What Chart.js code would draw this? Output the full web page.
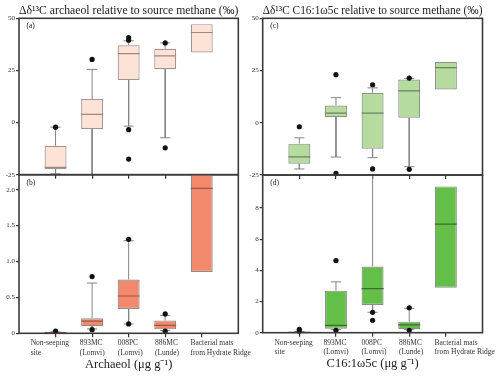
<!DOCTYPE html>
<html><head><meta charset="utf-8">
<script src="https://cdn.jsdelivr.net/npm/chart.js@4.4.1/dist/chart.umd.min.js"></script>
<style>
html,body{margin:0;padding:0;background:#fff;}
#wrap{position:relative;width:500px;height:377px;overflow:hidden;background:#fff;}
canvas{position:absolute;left:0;top:0;}
</style></head><body>
<div id="wrap">
<canvas id="pa" width="500" height="377"></canvas>
<canvas id="pb" width="500" height="377"></canvas>
<canvas id="pc" width="500" height="377"></canvas>
<canvas id="pd" width="500" height="377"></canvas>
</div>
<script>
// ---------- categories & tick labels ----------
const categories = [['Non-seeping','site'],['893MC','(Lomvi)'],['008PC','(Lomvi)'],['886MC','(Lunde)'],['Bacterial mats','from Hydrate Ridge']];
const catIndex = [0,1,2,3,4];
const deltaTicks = [-25,0,25,50];
const deltaTickLabels = ['-25','0','25','50'];
const archConcTicks = [0,0.5,1,1.5,2];
const archConcTickLabels = ['0','0.5','1.0','1.5','2.0'];
const c16ConcTicks = [0,2,4,6,8];
const c16ConcTickLabels = ['0','2','4','6','8'];

// ---------- (a) Δδ13C archaeol ----------
const archD_q1  = [-22.4, -3.1, 20.4, 25.6, 33.6];
const archD_q3  = [-11.1, 11.3, 37.1, 35.4, 47.2];
const archD_med = [-21.5, 3.9, 33.1, 32.0, 43.2];
const archD_lo  = [-24.6, -30, -1.7, -7.3, null];
const archD_hi  = [-2.2, 25.5, 39.2, 38.2, null];
const archD_out = [[-2.2],[30.3],[40.8,39.5,-3.4,-17.5],[38.2,-12.1],[]];

// ---------- (b) archaeol concentration ----------
const archC_q1  = [0.0, 0.10, 0.34, 0.055, 0.855];
const archC_q3  = [0.02, 0.21, 0.75, 0.18, 2.6];
const archC_med = [0.01, 0.17, 0.52, 0.11, 2.02];
const archC_lo  = [0.0, 0.06, 0.13, 0.04, null];
const archC_hi  = [0.02, 0.70, 1.29, 0.25, null];
const archC_out = [[0.03],[0.79,0.05],[1.31,0.13],[0.27,0.03],[]];

// ---------- (c) Δδ13C C16:1ω5c ----------
const c16D_q1  = [-19.6, 2.7, -12.4, 2.4, 15.9];
const c16D_q3  = [-10.0, 8.3, 14.2, 20.7, 29.2];
const c16D_med = [-16.3, 4.6, 4.6, 15.3, 26.4];
const c16D_lo  = [-22.1, -16.4, -16.7, -21.0, null];
const c16D_hi  = [-7.2, 12.0, 16.7, 21.2, null];
const c16D_out = [[-1.9],[23.0,-24.2],[18.2,-22.1],[21.4,-22.3],[]];

// ---------- (d) C16:1ω5c concentration ----------
const c16C_q1  = [0.0, 0.25, 1.78, 0.22, 2.89];
const c16C_q3  = [0.05, 2.70, 4.25, 0.71, 9.39];
const c16C_med = [0.02, 0.47, 2.83, 0.50, 6.97];
const c16C_lo  = [0.0, 0.2, 1.31, 0.2, null];
const c16C_hi  = [0.08, 3.26, 11, 1.57, null];
const c16C_out = [[0.22,0.1],[4.63,0.15],[1.31,0.80],[1.60,0.15],[]];

// ---------- style constants ----------
const SERIF = "'Liberation Serif','Times New Roman',serif";
const BOX_FRAC = 0.6;          // bar width as fraction of category spacing
const HALF = BOX_FRAC/2;
const CAP = 0.14;
const LABEL_OFFSETS = [-0.68,-0.34,-0.3,-0.28,-0.31]; // left-aligned label start, in category units

function whiskerPts(q1,q3,lo,hi){
  const p=[];
  q1.forEach((_,i)=>{
    if(hi[i]!=null){ p.push({x:i,y:q3[i]},{x:i,y:hi[i]},{x:i,y:null},{x:i-CAP,y:hi[i]},{x:i+CAP,y:hi[i]},{x:i,y:null}); }
    if(lo[i]!=null){ p.push({x:i,y:q1[i]},{x:i,y:lo[i]},{x:i,y:null},{x:i-CAP,y:lo[i]},{x:i+CAP,y:lo[i]},{x:i,y:null}); }
  });
  return p;
}
function medianPts(med){ const p=[]; med.forEach((m,i)=>p.push({x:i-HALF,y:m},{x:i+HALF,y:m},{x:i,y:null})); return p; }
function boxPts(q1,q3){ return q1.map((v,i)=>({x:i,y:[v,q3[i]]})); }
function outPts(out){ const p=[]; out.forEach((arr,i)=>arr.forEach(v=>p.push({x:i,y:v}))); return p; }

const framePlugin = {
  id:'frame',
  afterDatasetsDraw(chart){
    const a=chart.chartArea, c=chart.ctx;
    c.save(); c.strokeStyle='#3a3a3a'; c.lineWidth=1.6;
    c.strokeRect(a.left,a.top,a.right-a.left,a.bottom-a.top);
    c.restore();
    const lbl = chart.options.plugins.panelLabel.text;
    c.save(); c.fillStyle='#222'; c.font='7.5px '+SERIF; c.textBaseline='middle'; c.textAlign='left';
    c.fillText(lbl, a.left+7.5, a.top+8);
    c.restore();
  }
};

function makePanel(id, p){
  const scales = {
    x:{type:'linear',min:-1,max:5,offset:false,position:'bottom',
       afterBuildTicks:s=>{s.ticks=catIndex.map(v=>({value:v}));},
       afterFit:s=>{s.height=4;s.paddingLeft=0;s.paddingRight=0;},
       ticks:{display:false},
       grid:{display:true,drawOnChartArea:false,drawTicks:true,tickLength:4,color:'#333',lineWidth:1.2,offset:false},
       border:{display:false}},
    y:{type:'linear',min:p.ymin,max:p.ymax,
       afterBuildTicks:s=>{s.ticks=p.yticks.map(v=>({value:v}));},
       afterFit:s=>{s.width=19;s.paddingTop=0;s.paddingBottom=0;},
       ticks:{callback:(v,i)=>p.ylabels[i],font:{family:SERIF,size:7},color:'#333',padding:1},
       grid:{drawOnChartArea:false,drawTicks:true,tickLength:3,color:'#333',lineWidth:1.2},
       border:{display:false}}
  };
  if(p.xtitle){
    scales.xl = {type:'linear',min:-1,max:5,offset:false,position:'bottom',
       afterBuildTicks:s=>{s.ticks=catIndex.map((v,i)=>({value:v+LABEL_OFFSETS[i]}));},
       afterFit:s=>{s.height=38;s.paddingLeft=0;s.paddingRight=0;},
       ticks:{display:true,align:'start',autoSkip:false,maxRotation:0,minRotation:0,padding:1.5,color:'#333',
              font:{family:SERIF,size:7.5,lineHeight:1.25},callback:(v,i)=>categories[i]},
       grid:{display:false,drawTicks:false,tickLength:0},border:{display:false},
       title:{display:true,text:p.xtitle,color:'#222',font:{family:SERIF,size:12.5,lineHeight:1.2},padding:{top:0,bottom:3}}};
  }
  return new Chart(document.getElementById(id),{
    type:'bar',
    data:{datasets:[
      {type:'scatter',data:outPts(p.out),pointRadius:2.6,pointHoverRadius:2.6,pointBackgroundColor:'#111',pointBorderWidth:0,clip:false,order:0},
      {type:'line',data:medianPts(p.med),borderColor:p.medColor,borderWidth:1.2,pointRadius:0,spanGaps:false,clip:0,order:1},
      {type:'bar',data:boxPts(p.q1,p.q3),backgroundColor:p.fill,borderColor:p.edge,borderWidth:1.2,borderSkipped:false,
       barPercentage:BOX_FRAC,categoryPercentage:1,grouped:false,clip:0,order:2},
      {type:'line',data:whiskerPts(p.q1,p.q3,p.lo,p.hi),borderColor:'#858585',borderWidth:1,pointRadius:0,spanGaps:false,clip:0,order:3}
    ]},
    options:{
      responsive:false,animation:false,devicePixelRatio:1,
      layout:{padding:p.pad},
      scales,
      plugins:{
        legend:{display:false},tooltip:{enabled:false},
        title:{display:!!p.title,text:p.title||'',fullSize:false,color:'#222',
               font:{family:SERIF,size:12.3,weight:'normal',lineHeight:1.22},padding:0},
        panelLabel:{text:p.label}
      }
    },
    plugins:[framePlugin]
  });
}

makePanel('pa',{q1:archD_q1,q3:archD_q3,med:archD_med,lo:archD_lo,hi:archD_hi,out:archD_out,
  ymin:-25,ymax:50,yticks:deltaTicks,ylabels:deltaTickLabels,fill:'#fde3d6',edge:'#a09490',medColor:'#9c8880',
  title:'Δδ¹³C archaeol relative to source methane (‰)',label:'(a)',
  pad:{left:0,right:261.7,top:3.3,bottom:198.3}});
makePanel('pb',{q1:archC_q1,q3:archC_q3,med:archC_med,lo:archC_lo,hi:archC_hi,out:archC_out,
  ymin:0,ymax:2.21,yticks:archConcTicks,ylabels:archConcTickLabels,fill:'#f2886c',edge:'#948a86',medColor:'#9a584a',
  xtitle:'Archaeol (μg g⁻¹)',label:'(b)',
  pad:{left:0,right:261.7,top:174.7,bottom:1.7}});
makePanel('pc',{q1:c16D_q1,q3:c16D_q3,med:c16D_med,lo:c16D_lo,hi:c16D_hi,out:c16D_out,
  ymin:-25,ymax:50,yticks:deltaTicks,ylabels:deltaTickLabels,fill:'#b5dc9e',edge:'#8c9488',medColor:'#6e8064',
  title:'Δδ¹³C C16:1ω5c relative to source methane (‰)',label:'(c)',
  pad:{left:243.7,right:17.5,top:3.3,bottom:198}});
makePanel('pd',{q1:c16C_q1,q3:c16C_q3,med:c16C_med,lo:c16C_lo,hi:c16C_hi,out:c16C_out,
  ymin:0,ymax:10.12,yticks:c16ConcTicks,ylabels:c16ConcTickLabels,fill:'#64bf48',edge:'#8a9086',medColor:'#3d6b35',
  xtitle:'C16:1ω5c (μg g⁻¹)',label:'(d)',
  pad:{left:243.7,right:17.5,top:175,bottom:2.3}});
</script>
</body></html>
